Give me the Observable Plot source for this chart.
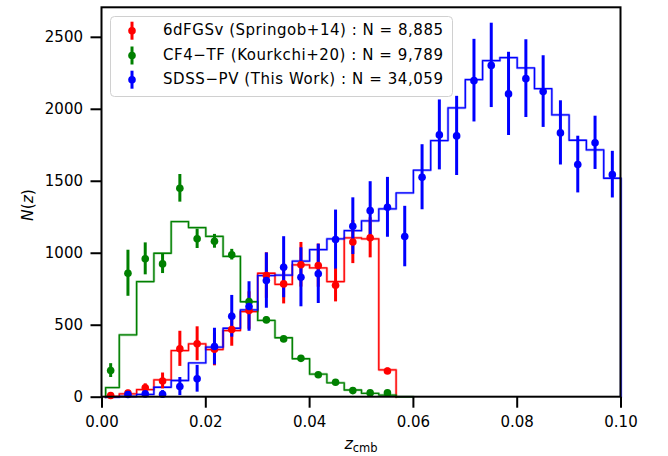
<!DOCTYPE html>
<html><head><meta charset="utf-8">
<script src="https://cdn.jsdelivr.net/npm/d3@7"></script>
<script src="https://cdn.jsdelivr.net/npm/@observablehq/plot@0.6"></script>
<style>body{margin:0;background:#fff;} #chart{width:668px;height:456px;}</style>
</head><body><div id="chart"></div>
<script>
// ---- data ----
const binEdges = [0.0007, 0.00333, 0.00667, 0.01, 0.01333, 0.01667, 0.02, 0.02333, 0.02667, 0.03, 0.03333, 0.03667, 0.04, 0.04333, 0.04667, 0.05, 0.05333, 0.05667, 0.06, 0.06333, 0.06667, 0.07, 0.07333, 0.07667, 0.08, 0.08333, 0.08667, 0.09, 0.09333, 0.09667, 0.1];
const binCenters = [0.00167, 0.005, 0.00833, 0.01167, 0.015, 0.01833, 0.02167, 0.025, 0.02833, 0.03167, 0.035, 0.03833, 0.04167, 0.045, 0.04833, 0.05167, 0.055, 0.05833, 0.06167, 0.065, 0.06833, 0.07167, 0.075, 0.07833, 0.08167, 0.085, 0.08833, 0.09167, 0.095, 0.09833];

const seriesNames = ["6dFGSv (Springob+14) : N = 8,885", "CF4\u2212TF (Kourkchi+20) : N = 9,789", "SDSS\u2212PV (This Work) : N = 34,059"];
const seriesColors = ["#ff0000", "#008000", "#0000ff"];

// histogram (step) counts per bin
const redHist = [5, 23, 53, 121, 324, 371, 331, 463, 595, 861, 784, 919, 898, 803, 1107, 1100, 190];
const greenHist = [67, 433, 803, 1000, 1220, 1178, 1117, 978, 663, 533, 413, 267, 160, 100, 50, 27, 15, 3];
const blueHist = [0, 5, 19, 69, 116, 238, 348, 479, 607, 845, 848, 945, 1025, 1100, 1157, 1225, 1308, 1419, 1577, 1783, 2010, 2206, 2338, 2359, 2287, 2143, 1961, 1785, 1718, 1521];

// points with error bars (start bin index, values, errors)
const redStart = 0;
const redVals = [12, 28, 65, 113, 336, 371, 333, 470, 602, 845, 787, 920, 914, 778, 1078, 1107, 182];
const redErr  = [14, 20, 28, 55, 122, 118, 115, 116, 130, 158, 139, 155, 150, 116, 150, 139, 20];
const greenStart = 0;
const greenVals = [185, 861, 961, 926, 1451, 1100, 1083, 990, 665, 537, 405, 270, 156, 104, 46, 30, 30];
const greenErr  = [48, 160, 111, 67, 96, 67, 48, 37, 22, 20, 17, 12, 10, 8, 6, 5, 5];
const blueStart = 1;
const blueVals = [19, 23, 21, 74, 128, 352, 562, 630, 810, 903, 833, 857, 1095, 1188, 1296, 1319, 1116, 1528, 1822, 1815, 2199, 2305, 2107, 2213, 2123, 1836, 1616, 1767, 1546];
const blueErr  = [14, 20, 25, 63, 93, 127, 145, 172, 192, 212, 205, 206, 205, 197, 201, 208, 210, 226, 243, 275, 287, 293, 289, 270, 249, 223, 197, 185, 162];

const xTicks = [0, 0.02, 0.04, 0.06, 0.08, 0.1];
const xTickLabels = ["0.00", "0.02", "0.04", "0.06", "0.08", "0.10"];
const yTicks = [0, 500, 1000, 1500, 2000, 2500];
const yTickLabels = ["0", "500", "1000", "1500", "2000", "2500"];

// ---- build tables ----
function stepTable(vals) {
  const pts = [{z: binEdges[0], n: 0}];
  vals.forEach((v, i) => pts.push({z: binEdges[i], n: v}));
  pts.push({z: binEdges[vals.length], n: 0});
  return pts;
}
function pointTable(start, vals, errs) {
  return vals.map((v, i) => ({z: binCenters[start + i], n: v, lo: v - errs[i], hi: v + errs[i]}));
}
const steps = [stepTable(redHist), stepTable(greenHist), stepTable(blueHist)];
const pts = [pointTable(redStart, redVals, redErr), pointTable(greenStart, greenVals, greenErr), pointTable(blueStart, blueVals, blueErr)];

const marks = [];
steps.forEach((s, i) => {
  marks.push(Plot.line(s, {x: "z", y: "n", curve: "step-after", stroke: seriesColors[i], strokeWidth: 2.6, strokeOpacity: 0.35}));
  marks.push(Plot.line(s, {x: "z", y: "n", curve: "step-after", stroke: seriesColors[i], strokeWidth: 1.3}));
});
pts.forEach((p, i) => marks.push(Plot.ruleX(p, {x: "z", y1: "lo", y2: "hi", stroke: seriesColors[i], strokeWidth: 3})));
pts.forEach((p, i) => marks.push(Plot.dot(p, {x: "z", y: "n", r: 3.8, fill: seriesColors[i], stroke: "none"})));

marks.push(Plot.axisX({ticks: xTicks, tickFormat: d => xTickLabels[xTicks.indexOf(d)], tickSize: 11, tickPadding: 8, strokeWidth: 2, fontSize: 15, label: null}));
marks.push(Plot.axisY({ticks: yTicks, tickFormat: d => yTickLabels[yTicks.indexOf(d)], tickSize: 11, tickPadding: 8, strokeWidth: 2, fontSize: 15, label: null}));

const chart = Plot.plot({
  width: 668, height: 456,
  marginLeft: 101.5, marginRight: 47.5, marginTop: 7.3, marginBottom: 59.3,
  x: {domain: [0, 0.1]},
  y: {domain: [0, 2705]},
  style: {fontFamily: "DejaVu Sans", fontSize: "15px", background: "white", color: "black", overflow: "visible"},
  marks
});
document.getElementById("chart").appendChild(chart);

// ---- frame, axis labels & legend ----
const svg = d3.select(chart);
svg.append("rect").attr("x", 101.5).attr("y", 7.3).attr("width", 668 - 47.5 - 101.5).attr("height", 456 - 59.3 - 7.3)
  .attr("fill", "none").attr("stroke", "black").attr("stroke-width", 2);

const yl = svg.append("text").attr("transform", "translate(28,205) rotate(-90)")
  .attr("text-anchor", "middle").attr("dominant-baseline", "middle")
  .style("font-family", "DejaVu Sans").style("font-size", "15.5px").attr("fill", "black");
yl.append("tspan").style("font-style", "italic").text("N");
yl.append("tspan").text("(");
yl.append("tspan").style("font-style", "italic").text("z");
yl.append("tspan").text(")");

const xl = svg.append("text").attr("x", 361).attr("y", 444)
  .attr("text-anchor", "middle").attr("dominant-baseline", "middle")
  .style("font-family", "DejaVu Sans").attr("fill", "black");
xl.append("tspan").style("font-style", "italic").style("font-size", "16px").text("z");
xl.append("tspan").attr("dy", 4).style("font-size", "11.5px").text("cmb");

const lg = svg.append("g");
lg.append("rect").attr("x", 110.5).attr("y", 16.5).attr("width", 342).attr("height", 80)
  .attr("rx", 4).attr("fill", "white").attr("fill-opacity", 0.85).attr("stroke", "#d0d0d0").attr("stroke-width", 1);
const rowsY = [30.7, 55.5, 79.7];
seriesNames.forEach((name, i) => {
  const y = rowsY[i];
  lg.append("line").attr("x1", 132).attr("x2", 132).attr("y1", y - 9).attr("y2", y + 9)
    .attr("stroke", seriesColors[i]).attr("stroke-width", 3);
  lg.append("circle").attr("cx", 132).attr("cy", y).attr("r", 3.8).attr("fill", seriesColors[i]);
  lg.append("text").attr("x", 163).attr("y", y).attr("dominant-baseline", "middle")
    .attr("text-anchor", "start")
    .style("font-family", "DejaVu Sans").style("font-size", "15px").attr("fill", "black")
    .attr("textLength", 280).attr("lengthAdjust", "spacing")
    .text(name);
});
</script>
</body></html>
